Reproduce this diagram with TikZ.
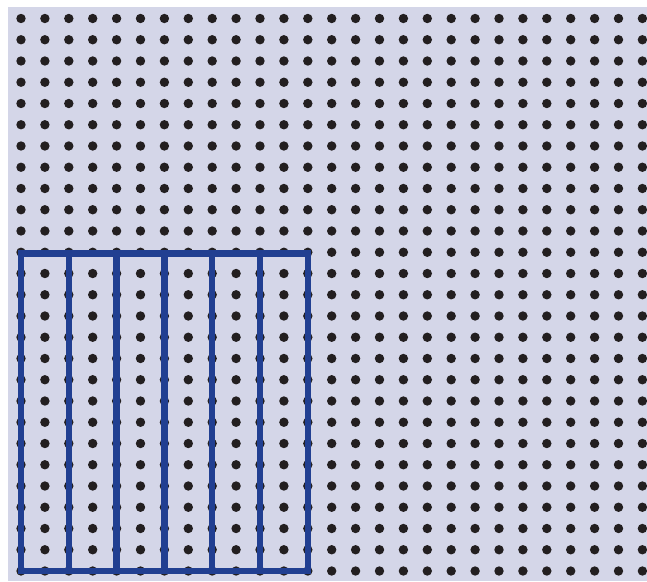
\documentclass[tikz,border=0pt]{standalone}
\definecolor{bgc}{RGB}{212,214,232}
\definecolor{dotc}{RGB}{35,31,32}
\definecolor{stripc}{RGB}{33,63,145}
\tikzset{
  dotstyle/.style={fill=dotc},
  stripbox/.style={draw=stripc, line width=6.5pt}
}
\begin{document}
\begin{tikzpicture}[x=1pt,y=-1pt]
\useasboundingbox (0,0) rectangle (647,581);
\fill[bgc] (8,7) rectangle (647,581);
\foreach \i in {0,...,26} {
  \foreach \j in {0,...,26} {
    \fill[dotstyle] ({21+23.9*\i},{18.5+21.25*\j}) circle[radius=4.7];
  }
}
\foreach \k in {0,...,5} {
  \draw[stripbox] ({21+47.8*\k},253.5) rectangle ({21+47.8*(\k+1)},571);
}
\end{tikzpicture}
\end{document}
